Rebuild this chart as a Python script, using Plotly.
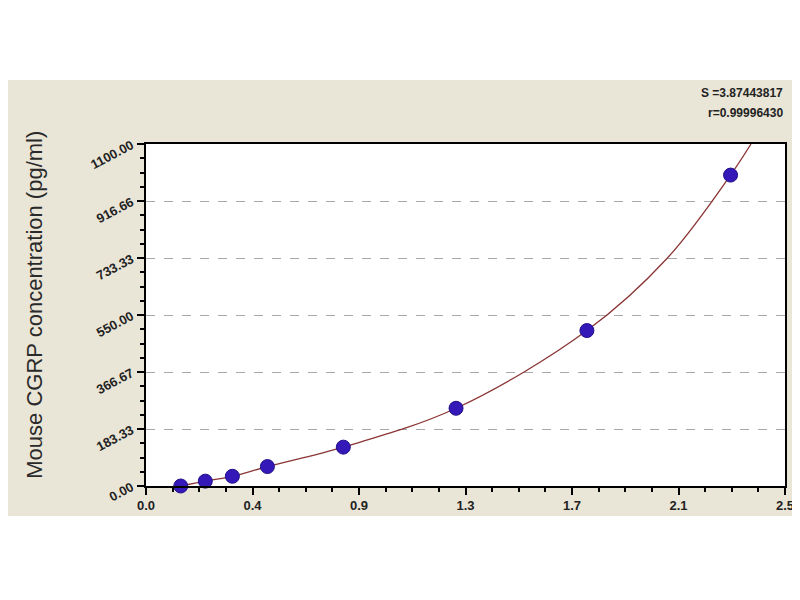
import plotly.graph_objects as go

# Standards: optical density vs concentration
od_values = [0.136, 0.232, 0.338, 0.475, 0.772, 1.213, 1.725, 2.287]
conc_values = [0.0, 15.625, 31.25, 62.5, 125.0, 250.0, 500.0, 1000.0]

# Fitted curve, points
curve_od = [0.136, 0.232, 0.338, 0.475, 0.772, 1.213, 1.725, 2.04, 2.287, 2.367]
curve_conc = [0.0, 15.6, 31.3, 62.5, 125.0, 250.0, 500.0, 733.33, 1000.0, 1100.0]

x_tick_vals = [0.0, 0.41667, 0.83333, 1.25, 1.66667, 2.08333, 2.5]
x_tick_text = ["0.0", "0.4", "0.9", "1.3", "1.7", "2.1", "2.5"]
y_tick_vals = [0.0, 183.33, 366.67, 550.0, 733.33, 916.66, 1100.0]
y_tick_text = ["0.00", "183.33", "366.67", "550.00", "733.33", "916.66", "1100.00"]

stats_lines = ["S =3.87443817", "r=0.99996430"]
y_title = "Mouse CGRP concentration (pg/ml)"

beige = "#EAE6D7"
fig = go.Figure()

fig.add_trace(go.Scatter(
    x=curve_od, y=curve_conc, mode="lines",
    line=dict(color="#8B3535", width=1.3, shape="spline", smoothing=1.0),
    hoverinfo="skip", showlegend=False))

fig.add_trace(go.Scatter(
    x=od_values, y=conc_values, mode="markers",
    marker=dict(color="#3418B8", size=14, line=dict(color="#22108A", width=1)),
    showlegend=False, cliponaxis=False))

axis_common = dict(showline=True, linecolor="black", linewidth=1.5, mirror=True,
                   ticks="outside", tickcolor="black", tickwidth=1.5, ticklen=7,
                   zeroline=False,
                   tickfont=dict(family="Arial", size=13, color="#222222", weight="bold"))

fig.update_xaxes(range=[0, 2.5], tickmode="array", tickvals=x_tick_vals,
                 ticktext=x_tick_text, showgrid=False,
                 minor=dict(dtick=0.104167, tick0=0, ticks="outside", ticklen=4,
                            tickcolor="black", tickwidth=1.5, showgrid=False),
                 **axis_common)
fig.update_yaxes(range=[0, 1100], tickmode="array", tickvals=y_tick_vals,
                 ticktext=y_tick_text, tickangle=-28, ticklabelstandoff=3,
                 showgrid=True, gridcolor="#A8A8A8", griddash="dash", gridwidth=1,
                 minor=dict(dtick=45.8333, tick0=0, ticks="outside", ticklen=4,
                            tickcolor="black", tickwidth=1.5, showgrid=False),
                 **axis_common)

# white letterbox bands top and bottom
fig.add_shape(type="rect", xref="paper", yref="paper", x0=-0.3, x1=1.1,
              y0=1.187, y1=1.6, fillcolor="white", line=dict(width=0), layer="above")
fig.add_shape(type="rect", xref="paper", yref="paper", x0=-0.3, x1=1.1,
              y0=-0.5, y1=-0.088, fillcolor="white", line=dict(width=0), layer="above")

fig.add_annotation(xref="paper", yref="paper", x=1.0, y=1.149, xanchor="right",
                   yanchor="middle", showarrow=False, align="right",
                   text=stats_lines[0],
                   font=dict(family="Arial", size=12, color="#222222", weight="bold"))
fig.add_annotation(xref="paper", yref="paper", x=1.0, y=1.091, xanchor="right",
                   yanchor="middle", showarrow=False, align="right",
                   text=stats_lines[1],
                   font=dict(family="Arial", size=12, color="#222222", weight="bold"))
fig.add_annotation(xref="paper", yref="paper", x=-0.1737, y=0.53, xanchor="center",
                   yanchor="middle", showarrow=False, textangle=-90,
                   text=y_title,
                   font=dict(family="Arial", size=22, color="#2a2a2a"))

# page body has an 8px margin: compensate so the plot lands where the reference has it
fig.update_layout(width=792, height=592,
                  margin=dict(l=138, r=15, t=136, b=114, autoexpand=False),
                  paper_bgcolor=beige, plot_bgcolor="white")

fig.write_html("out.html")
